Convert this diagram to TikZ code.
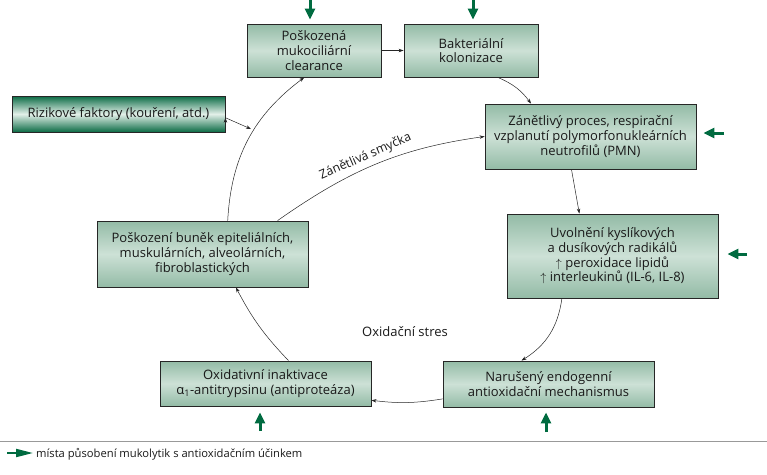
\documentclass[tikz,border=0pt]{standalone}
\usepackage{fontspec}
\setmainfont{Open Sans}
\usetikzlibrary{arrows.meta}

\definecolor{boxdark}{HTML}{93BBA6}
\definecolor{boxlight}{HTML}{CDE1D6}
\definecolor{riskdark}{HTML}{0B6B45}
\definecolor{risklight}{HTML}{E3F0E9}
\definecolor{drugreen}{HTML}{006B40}

\tikzset{
  box/.style={draw=black!85, line width=0.9pt, top color=boxdark, bottom color=boxdark,
    middle color=boxlight, align=center, inner sep=0pt, text=black!90,
    font=\fontsize{13}{14.7}\selectfont},
  riskbox/.style={box, top color=riskdark, bottom color=riskdark, middle color=risklight},
  conn/.style={-{Stealth[length=5pt,width=3.5pt]}, line width=0.5pt, draw=black!85},
  drug/.style={-{Triangle[length=11pt,width=10pt]}, draw=drugreen, line width=3pt},
}

\begin{document}
\begin{tikzpicture}[x=1pt,y=-1pt]
  \useasboundingbox (0,0) rectangle (767,474);

  \node (clear) [box, minimum width=134pt, minimum height=53pt] at (314,50.5) {Poškozená\\mukociliární\\clearance};
  \node (bakt) [box, minimum width=134pt, minimum height=53pt] at (471,50.5) {Bakteriální\\kolonizace};
  \node (risk) [riskbox, minimum width=213pt, minimum height=36pt] at (118.5,114) {Rizikové faktory (kouření, atd.)};
  \node (zanet) [box, minimum width=211pt, minimum height=65pt] at (590.5,136.5) {Zánětlivý proces, respirační\\vzplanutí polymorfonukleárních\\neutrofilů (PMN)};
  \node (uvol) [box, minimum width=211pt, minimum height=84pt] at (612.5,256) {Uvolnění kyslíkových\\a dusíkových radikálů\\$\uparrow$ peroxidace lipidů\\$\uparrow$ interleukinů (IL-6, IL-8)};
  \node (posk) [box, minimum width=211pt, minimum height=66pt] at (202.5,254) {Poškození buněk epiteliálních,\\muskulárních, alveolárních,\\fibroblastických};
  \node (oxid) [box, minimum width=211pt, minimum height=45pt] at (265.5,383.5) {Oxidativní inaktivace\\α\textsubscript{1}-antitrypsinu (antiproteáza)};
  \node (narus) [box, minimum width=211pt, minimum height=46pt] at (548.5,384) {Narušený endogenní\\antioxidační mechanismus};
  \node (stres) [font=\fontsize{13}{14.7}\selectfont, text=black!90] at (405,332) {Oxidační stres};

  \coordinate (riskin) at (251,129);

  \path [conn]
    (clear.east) edge (bakt.west)
    (bakt.-45) edge [bend left=15] (zanet.151)
    (zanet.-120) edge (uvol.128)
    (uvol.-140) edge [bend left=25] (narus.139)
    (narus.-172) edge [bend left=8] (oxid.-9)
    (oxid.45) edge [bend left=8] (posk.-45)
    (posk.53) edge [bend left=25] (clear.-110)
    (posk.24) edge [out=35, in=188] node [sloped, above=1pt, pos=0.47, font=\fontsize{12.4}{14}\selectfont, text=black!90] {Zánětlivá smyčka} (zanet.west)
    (risk.-2) edge (riskin);

  % mista pusobeni mukolytik
  \coordinate (dclear) at (310,0);
  \coordinate (dbakt) at (473,0);
  \coordinate (dzanet) at (724,133);
  \coordinate (duvol) at (747,254);
  \coordinate (doxid) at (260,431);
  \coordinate (dnarus) at (546,432);
  \draw [drug, shorten >=4pt] (dclear) -- (dclear |- clear.north);
  \draw [drug, shorten >=4pt] (dbakt) -- (dbakt |- bakt.north);
  \draw [drug, shorten >=7pt] (dzanet) -- (dzanet -| zanet.east);
  \draw [drug, shorten >=9pt] (duvol) -- (duvol -| uvol.east);
  \draw [drug, shorten >=6pt] (doxid) -- (doxid |- oxid.south);
  \draw [drug, shorten >=5pt] (dnarus) -- (dnarus |- narus.south);

  % legenda
  \draw [black!40, line width=1pt] (0,441) -- (767,441);
  \coordinate (legtail) at (7,453);
  \node (legend) [anchor=west, inner sep=0pt, font=\fontsize{11.2}{13}\selectfont, text=black!90] at (36,454) {místa působení mukolytik s antioxidačním účinkem};
  \draw [-{Triangle[length=17pt,width=8pt]}, draw=drugreen, line width=2pt, shorten >=3pt] (legtail) -- (legtail -| legend.west);
\end{tikzpicture}
\end{document}
